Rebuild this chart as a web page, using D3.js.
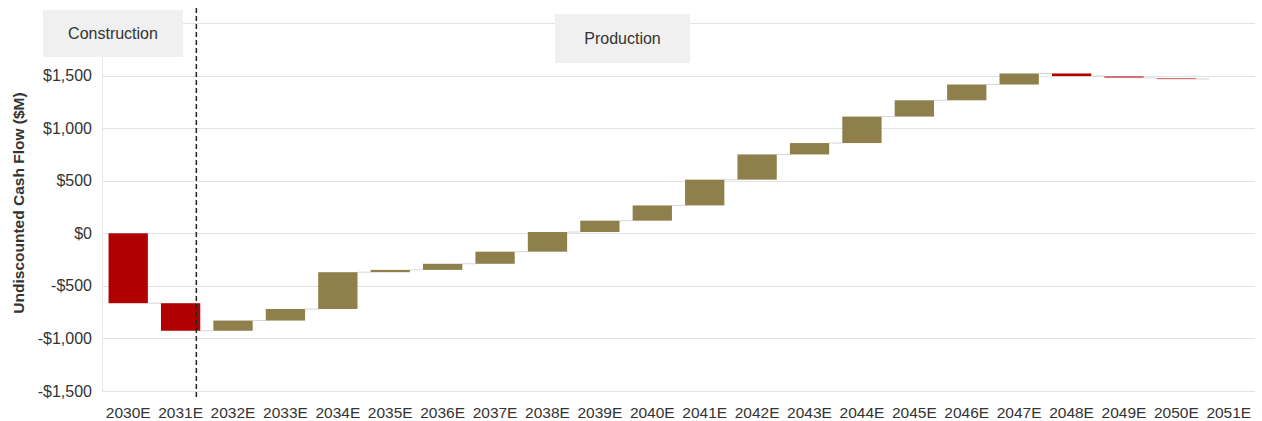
<!DOCTYPE html>
<html>
<head>
<meta charset="utf-8">
<script src="https://cdn.jsdelivr.net/npm/d3@7"></script>
<style>
  html, body { margin: 0; padding: 0; background: #fff; }
  svg { display: block; font-family: Arial, "Liberation Sans", sans-serif; }
</style>
</head>
<body>
<svg id="chart" width="1262" height="421"></svg>
<script>
// ---- Data ----
const categories = ["2030E","2031E","2032E","2033E","2034E","2035E","2036E","2037E","2038E","2039E","2040E",
  "2041E","2042E","2043E","2044E","2045E","2046E","2047E","2048E","2049E","2050E","2051E"];
// yearly change in cash flow ($M); bars float on the running total
const deltas = [-665, -262, 97, 110, 350, 22, 58, 115, 187, 108, 145,
  245, 240, 108, 252, 155, 150, 105, -25, -18, -10, 0];
const yTickValues = [-1500, -1000, -500, 0, 500, 1000, 1500];
const yTickLabels = ["-$1,500", "-$1,000", "-$500", "$0", "$500", "$1,000", "$1,500"];
const gridValues = [-1500, -1000, -500, 0, 500, 1000, 1500, 2000];
const phaseLabels = ["Construction", "Production"];
const yTitle = "Undiscounted Cash Flow ($M)";

// ---- Layout ----
const W = 1262, H = 421;
const m = { left: 102, right: 7, top: 23, bottom: 30 };
const svg = d3.select("#chart");

const x = d3.scaleBand().domain(categories)
  .range([m.left, W - m.right]).paddingInner(0.25).paddingOuter(0.125);
const y = d3.scaleLinear().domain([-1500, 2000]).range([H - m.bottom, m.top]);

// running totals
let run = 0;
const bars = categories.map((c, i) => {
  const start = run; run += deltas[i];
  return { cat: c, start, end: run, delta: deltas[i] };
});

// grid
svg.append("g").selectAll("line").data(gridValues).join("line")
  .attr("x1", m.left).attr("x2", W - m.right)
  .attr("y1", d => Math.round(y(d)) + 0.5).attr("y2", d => Math.round(y(d)) + 0.5)
  .attr("stroke", "#e3e3e3").attr("stroke-width", 1);

// faint y axis line
svg.append("line")
  .attr("x1", m.left + 0.5).attr("x2", m.left + 0.5)
  .attr("y1", m.top).attr("y2", H - m.bottom)
  .attr("stroke", "#e6e6e6");

// connectors
svg.append("g").selectAll("line").data(bars.slice(0, -1)).join("line")
  .attr("x1", (d) => x(d.cat) + x.bandwidth())
  .attr("x2", (d, i) => x(categories[i + 1]))
  .attr("y1", d => y(d.end)).attr("y2", d => y(d.end))
  .attr("stroke", "#d6d6d6").attr("stroke-width", 1);

// bars
const colors = { up: "#8f804b", down: "#b00000" };
svg.append("g").selectAll("rect").data(bars.filter(d => d.delta !== 0)).join("rect")
  .attr("x", d => x(d.cat))
  .attr("width", x.bandwidth())
  .attr("y", d => y(Math.max(d.start, d.end)))
  .attr("height", d => Math.max(1.2, Math.abs(y(d.start) - y(d.end))))
  .attr("fill", d => d.delta < 0 ? colors.down : colors.up)
  .attr("fill-opacity", d => (d.delta < 0 && Math.abs(d.delta) < 20) ? 0.55 : 1);

// y tick labels
svg.append("g").selectAll("text").data(yTickValues).join("text")
  .attr("x", 92).attr("y", d => y(d)).attr("dy", "0.35em")
  .attr("text-anchor", "end").attr("font-size", 16).attr("fill", "#333")
  .text((d, i) => yTickLabels[i]);

// x labels
svg.append("g").selectAll("text").data(categories).join("text")
  .attr("x", d => x(d) + x.bandwidth() / 2).attr("y", 418)
  .attr("text-anchor", "middle").attr("font-size", 15.5).attr("fill", "#333")
  .text(d => d);

// y title
svg.append("text")
  .attr("transform", "translate(24,203) rotate(-90)")
  .attr("text-anchor", "middle").attr("font-size", 15.5).attr("font-weight", "bold")
  .attr("fill", "#333").text(yTitle);

// phase boxes
const boxes = [
  { label: phaseLabels[0], x0: 43, x1: 183, y0: 10, y1: 57 },
  { label: phaseLabels[1], x0: 555, x1: 690, y0: 14, y1: 63 }
];
const bg = svg.append("g").selectAll("g").data(boxes).join("g");
bg.append("rect").attr("x", d => d.x0).attr("y", d => d.y0)
  .attr("width", d => d.x1 - d.x0).attr("height", d => d.y1 - d.y0)
  .attr("fill", "#f0f0f0");
bg.append("text").attr("x", d => (d.x0 + d.x1) / 2).attr("y", d => (d.y0 + d.y1) / 2)
  .attr("dy", "0.35em").attr("text-anchor", "middle").attr("font-size", 16)
  .attr("fill", "#333").text(d => d.label);

// dashed divider between construction and production
const divX = x("2031E") + x.bandwidth() * 0.9;
svg.append("line")
  .attr("x1", divX).attr("x2", divX).attr("y1", 8).attr("y2", 398)
  .attr("stroke", "#222").attr("stroke-width", 1.5).attr("stroke-dasharray", "5,3");
</script>
</body>
</html>
